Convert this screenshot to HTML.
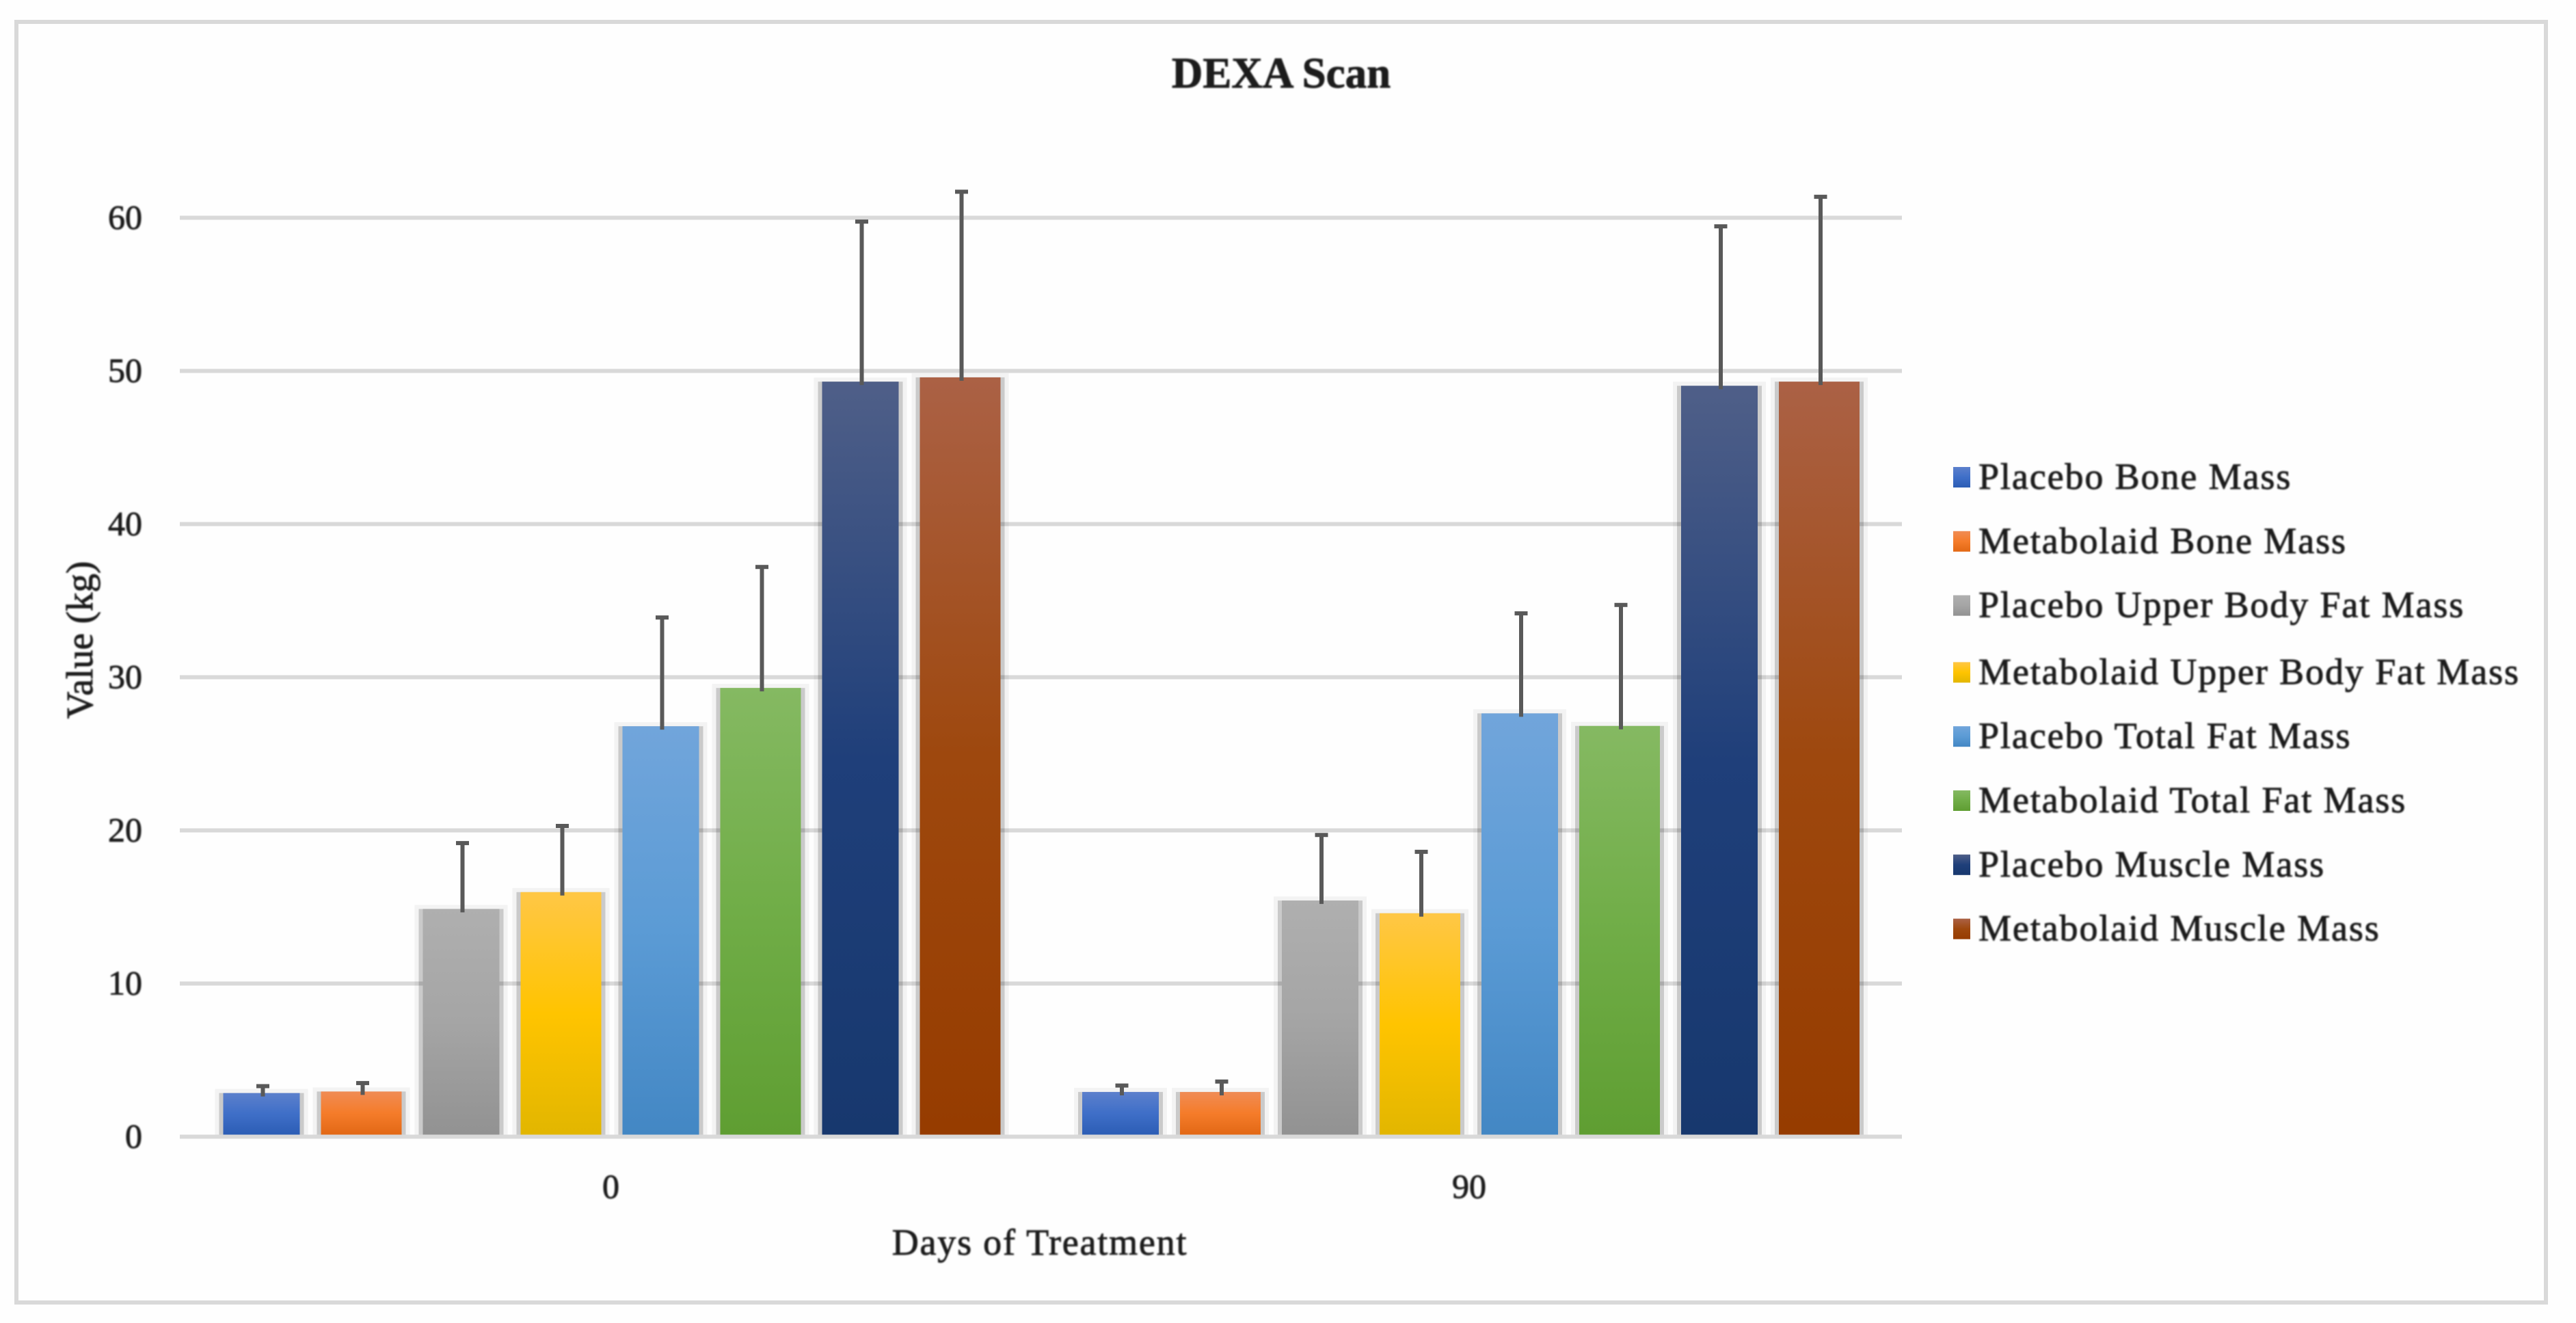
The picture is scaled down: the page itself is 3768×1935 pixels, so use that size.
<!DOCTYPE html>
<html lang="en">
<head>
<meta charset="utf-8">
<title>DEXA Scan</title>
<style>
html,body{margin:0;padding:0;background:#fefefe;}
svg{display:block;}
text{font-family:"Liberation Serif",serif;fill:#1c1c1c;stroke:#1c1c1c;stroke-width:.9px;filter:blur(1.1px);}
</style>
</head>
<body>
<svg id="chart" xmlns="http://www.w3.org/2000/svg" width="3768" height="1935" viewBox="0 0 3768 1935">
  <defs id="defs"></defs>
  <rect x="0" y="0" width="3768" height="1935" fill="#fefefe"/>
  <rect x="24" y="32" width="3700" height="1873" fill="none" stroke="#d9d9d9" stroke-width="6"/>
  <text x="1874" y="128" text-anchor="middle" font-size="63" font-weight="bold" fill="#111">DEXA Scan</text>
  <g id="grid"></g>
  <g id="halos"></g>
  <g id="bars"></g>
  <g id="errors"></g>
  <g id="yticks"></g>
  <g id="xticks"></g>
  <text x="1521" y="1835" text-anchor="middle" font-size="54" letter-spacing="1.8">Days of Treatment</text>
  <text transform="translate(135,936) rotate(-90)" text-anchor="middle" font-size="55">Value (kg)</text>
  <g id="legend"></g>
</svg>
<script>
const categories = ['0', '90'];
const seriesNames = ['Placebo Bone Mass', 'Metabolaid Bone Mass', 'Placebo Upper Body Fat Mass', 'Metabolaid Upper Body Fat Mass', 'Placebo Total Fat Mass', 'Metabolaid Total Fat Mass', 'Placebo Muscle Mass', 'Metabolaid Muscle Mass'];
const day0Means = [2.85, 2.95, 14.87, 15.97, 26.8, 29.3, 49.3, 49.58];
const day90Means = [2.92, 2.92, 15.42, 14.59, 27.64, 26.82, 49.03, 49.3];
const day0Errors = [0.45, 0.55, 4.3, 4.32, 7.1, 7.9, 10.45, 12.12];
const day90Errors = [0.42, 0.68, 4.28, 4.01, 6.53, 7.9, 10.41, 12.07];
const yTicks = [0, 10, 20, 30, 40, 50, 60];
const topColors = ['#5c80cc', '#f08c55', '#afafaf', '#ffc746', '#71a5db', '#85b962', '#4f5f88', '#ab6145'];
const midColors = ['#3f6fc8', '#f57c2a', '#a5a5a5', '#ffc400', '#5b9bd5', '#70ad47', '#1f3f7a', '#9e480e'];
const lowColors = ['#2c5db5', '#e26815', '#929292', '#e2b600', '#4387c4', '#5f9e32', '#17386e', '#963c00'];

const meansByCategory = [day0Means, day90Means];
const errorsByCategory = [day0Errors, day90Errors];
const NS = 'http://www.w3.org/2000/svg';
function y(v) { return 1662.5 - 22.4 * v; }
function groupCenter(c) { return 893.5 + 1256.5 * c; }
function barCenter(c, s) { return groupCenter(c) + (s - 3.5) * 146; }
function barWidth(s) { return s % 2 ? 118 : 112; }
function node(parent, tag, attrs) {
  const el = document.createElementNS(NS, tag);
  for (const k in attrs) el.setAttribute(k, attrs[k]);
  parent.appendChild(el);
  return el;
}
const defs = document.getElementById('defs');
topColors.forEach(function (col, s) {
  const g = node(defs, 'linearGradient', { id: 'fill' + s, x1: 0, y1: 0, x2: 0, y2: 1 });
  node(g, 'stop', { offset: '0%', 'stop-color': col });
  node(g, 'stop', { offset: '50%', 'stop-color': midColors[s] });
  node(g, 'stop', { offset: '100%', 'stop-color': lowColors[s] });
});

const gridG = document.getElementById('grid');
const yTickG = document.getElementById('yticks');
yTicks.forEach(function (t) {
  const line = node(gridG, 'rect', { x: 263, y: y(t) - 3, width: 2519, height: 6, fill: '#d9d9d9' });
  
  
  const label = node(yTickG, 'text', { x: 208, y: y(t) + 16, 'text-anchor': 'end', 'font-size': 50 });
  
  
  label.textContent = String(t);
});

const haloG = document.getElementById('halos');
const barG = document.getElementById('bars');
const errG = document.getElementById('errors');
const xTickG = document.getElementById('xticks');
categories.forEach(function (cat, c) {
  const tick = node(xTickG, 'text', { x: groupCenter(c) - 1 * c, y: 1752, 'text-anchor': 'middle', 'font-size': 50 });
  
  
  tick.textContent = cat;
  meansByCategory[c].forEach(function (v, s) {
    const cx = barCenter(c, s);
    const w = barWidth(s);
    const top = y(v);
    const base = y(0) - 3;
    const outer = node(haloG, 'rect', { x: cx - w / 2 - 12, y: top - 6, width: w + 24, height: base - top + 6, fill: '#000', 'fill-opacity': 0.045 });
    
    
    const inner = node(haloG, 'rect', { x: cx - w / 2 - 6, y: top, width: w + 12, height: base - top, fill: '#000', 'fill-opacity': 0.17 });
    
    
    const bar = node(barG, 'rect', { x: cx - w / 2, y: top, width: w, height: base - top, fill: 'url(#fill' + s + ')' });
    
    
    const upper = y(v + errorsByCategory[c][s]);
    const sx = cx + 2;
    const stem = node(errG, 'rect', { x: sx - 3, y: upper, width: 6, height: top - upper + 5, fill: '#595959' });
    
    
    const cap = node(errG, 'rect', { x: sx - 9.5, y: upper - 3, width: 19, height: 6, fill: '#595959' });
    
    
  });
});

const legendG = document.getElementById('legend');
seriesNames.forEach(function (name, s) {
  const ly = 698 + 93.8 * s + (s >= 3 ? 4 : 0);
  const sw = node(legendG, 'rect', { x: 2857, y: ly - 15, width: 25, height: 30, fill: 'url(#fill' + s + ')' });
  
  
  const label = node(legendG, 'text', { x: 2894, y: ly + 17, 'font-size': 54, 'letter-spacing': 1.9 });
  
  
  label.textContent = name;
});
</script>
</body>
</html>
